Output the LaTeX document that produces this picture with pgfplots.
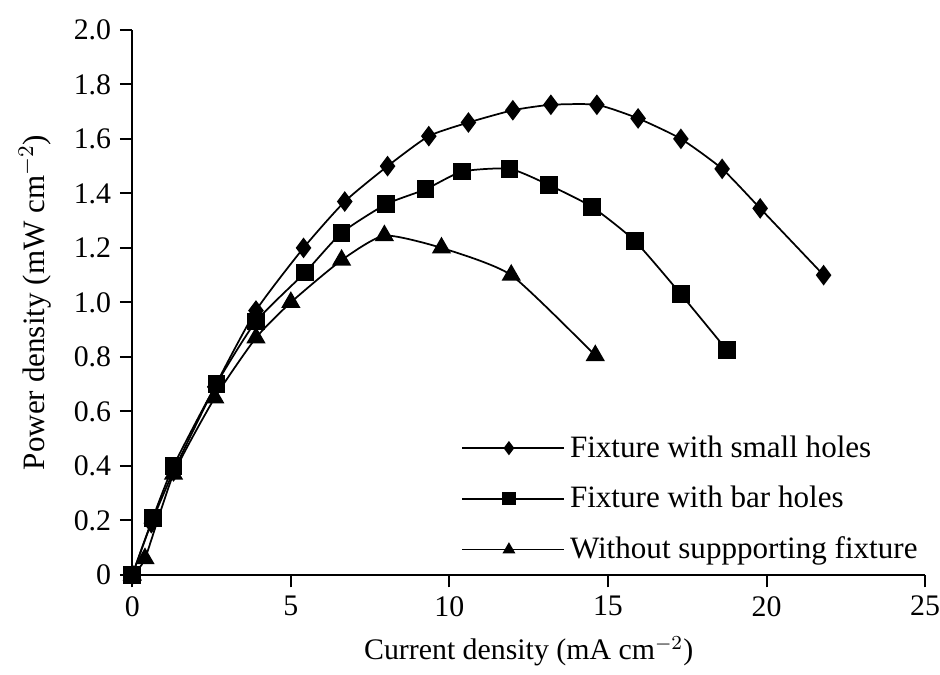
\documentclass[border=0pt]{standalone}
\usepackage{pgfplots}
\pgfplotsset{compat=1.18}
\usepackage{fontspec}
\setmainfont{Liberation Serif}
\begin{document}
\begin{tikzpicture}
\begin{axis}[
  scale only axis,
  width=318.8pt, height=219.2pt,
  xmin=0, xmax=25, ymin=0, ymax=2.0,
  axis lines=left,
  axis line style={line width=0.9pt, -},
  xtick={0,5,10,15,20,25},
  ytick={0,0.2,0.4,0.6,0.8,1.0,1.2,1.4,1.6,1.8,2.0},
  yticklabels={0,0.2,0.4,0.6,0.8,1.0,1.2,1.4,1.6,1.8,2.0},
  tick align=outside,
  major tick length=5pt,
  tick style={line width=0.8pt, black},
  /pgf/number format/assume math mode=true,
  tick label style={font=\fontsize{12}{14}\selectfont},
  xticklabel style={inner xsep=0pt},
  clip=false,
  xlabel={Current density (mA cm$^{-2}$)},
  ylabel={Power density (mW cm$^{-2}$)},
  xlabel style={font=\fontsize{12}{14}\selectfont, at={(axis description cs:0.5,-0.14)}, anchor=center},
  ylabel style={font=\fontsize{12.5}{15}\selectfont, at={(axis description cs:-0.123,0.5)}, anchor=center, rotate=0},
  legend style={draw=none, fill=none, at={(axis description cs:0.405,0.275)}, anchor=north west,
     font=\fontsize{12.5}{15}\selectfont, row sep=6.2pt, legend cell align=left},
  legend image code/.code={\draw[mark repeat=2,mark phase=2,#1,mark size=2.3pt] plot coordinates {(0pt,0pt) (18.8pt,0pt) (37.6pt,0pt)};
     \path (0pt,0pt) -- (41pt,0pt);},
  every axis plot/.append style={black, line width=0.7pt, smooth, tension=0.35},
]
\addplot[mark=diamond*, mark size=3.6pt] coordinates {
(0,0) (0.6,0.19) (1.3,0.38) (2.6,0.69) (3.9,0.97) (5.4,1.20) (6.7,1.37) (8.05,1.50) (9.35,1.61) (10.6,1.66) (12.0,1.705) (13.2,1.725) (14.65,1.725) (15.95,1.675) (17.3,1.60) (18.6,1.49) (19.8,1.345) (21.8,1.10)};
\addlegendentry{Fixture with small holes}
\addplot[mark=square*, mark size=3.2pt] coordinates {
(0,0) (0.65,0.21) (1.3,0.40) (2.65,0.70) (3.9,0.93) (5.45,1.11) (6.6,1.255) (8.0,1.36) (9.25,1.415) (10.4,1.48) (11.9,1.49) (13.15,1.43) (14.5,1.35) (15.85,1.225) (17.3,1.03) (18.75,0.825)};
\addlegendentry{Fixture with bar holes}
\addplot[mark=triangle*, mark size=3.8pt] coordinates {
(0,0) (0.4,0.06) (1.3,0.37) (2.6,0.65) (3.9,0.87) (5.0,1.00) (6.6,1.155) (7.95,1.245) (9.75,1.20) (11.95,1.10) (14.6,0.805)};
\addlegendentry{Without suppporting fixture}
\end{axis}
\path (current axis.south west) ++(-53.2pt,-39.2pt) rectangle ++(378pt,270.4pt);
\end{tikzpicture}
\end{document}
